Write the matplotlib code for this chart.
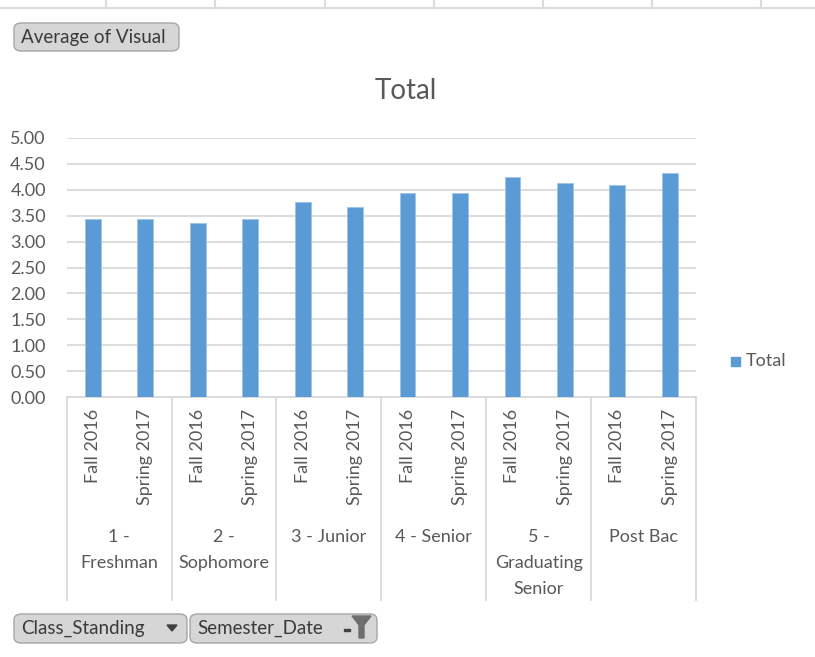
import matplotlib
matplotlib.use("Agg")
import matplotlib.pyplot as plt
import numpy as np
from matplotlib.patches import FancyBboxPatch, Polygon
from matplotlib.lines import Line2D
import matplotlib.transforms as mtransforms

plt.rcParams['font.family'] = ['Lato', 'DejaVu Sans']

semesters = ["Fall 2016", "Spring 2017"]
class_standing = ["1 -\nFreshman", "2 -\nSophomore", "3 - Junior", "4 - Senior",
                  "5 -\nGraduating\nSenior", "Post Bac"]
values = [3.43, 3.43, 3.36, 3.43, 3.76, 3.66, 3.93, 3.93, 4.25, 4.12, 4.08, 4.32]
yticks = [0.0, 0.5, 1.0, 1.5, 2.0, 2.5, 3.0, 3.5, 4.0, 4.5, 5.0]

W, H = 815, 657
fig = plt.figure(figsize=(W / 100, H / 100), dpi=100)
fig.patch.set_facecolor("white")

def fx(px):
    return px / W

def fy(py):
    return 1 - py / H

ax_l, ax_r, ax_t, ax_b = 66.7, 696, 137.7, 397.3
ax = fig.add_axes([fx(ax_l), fy(ax_b), fx(ax_r) - fx(ax_l), fy(ax_t) - fy(ax_b)])

txt = "#595959"
grid = "#d9d9d9"
bar_c = "#5B9BD5"
fs = 13

n = len(values)
x = np.arange(n)
ax.bar(x, values, width=0.3, color=bar_c, edgecolor="#9cc3e6", linewidth=0.6, zorder=3)
ax.set_xlim(-0.5, n - 0.5)
ax.set_ylim(0, 5)
ax.set_yticks(yticks)
ax.set_yticklabels([f"{v:.2f}" for v in yticks], color=txt, fontsize=fs)
ax.tick_params(axis="y", length=0, pad=15)
ax.set_xticks([])
ax.yaxis.grid(True, color=grid, linewidth=1.3, zorder=0)
for s in ["top", "right", "left"]:
    ax.spines[s].set_visible(False)
ax.spines["bottom"].set_color(grid)
ax.spines["bottom"].set_linewidth(1.3)

# title
fig.text(fx(406), fy(91), "Total", ha="center", va="center", fontsize=20, color=txt)

# category labels
tr = mtransforms.blended_transform_factory(ax.transData, fig.transFigure)
for i in range(n):
    ax.text(x[i], fy(409), semesters[i % 2], rotation=90, ha="center", va="top",
            fontsize=fs, color=txt, transform=tr)
ng = len(class_standing)
for g in range(ng):
    ax.text(2 * g + 0.5, fy(529), class_standing[g], ha="center", va="top",
            fontsize=fs, color=txt, transform=tr, linespacing=1.78)
for g in range(ng + 1):
    xx = 2 * g - 0.5
    ax.add_line(Line2D([xx, xx], [fy(ax_b), fy(600)], transform=tr, color=grid,
                       linewidth=1.3, clip_on=False))

# legend
fig.patches.append(plt.Rectangle((fx(731), fy(366)), fx(9), 9 / H, color=bar_c,
                                 transform=fig.transFigure))
fig.text(fx(746), fy(361), "Total", ha="left", va="center", fontsize=fs, color=txt)

# spreadsheet gridlines at top
fig.add_artist(Line2D([0, 1], [fy(7.5), fy(7.5)], color="#dcdcdc", linewidth=1.5,
                      transform=fig.transFigure))
for px in [106, 215, 325, 434, 543, 652, 761]:
    fig.add_artist(Line2D([fx(px), fx(px)], [fy(0), fy(7.5)], color="#dcdcdc",
                          linewidth=1.5, transform=fig.transFigure))

# pivot field buttons
def button(x0, y0, x1, y1, label):
    p = FancyBboxPatch((fx(x0), fy(y1)), fx(x1) - fx(x0), fy(y0) - fy(y1),
                       boxstyle="round,pad=0,rounding_size=0.009",
                       transform=fig.transFigure, facecolor="#d6d6d6",
                       edgecolor="#a6a6a6", linewidth=1.0)
    fig.patches.append(p)
    fig.text(fx(x0 + 7), fy((y0 + y1) / 2), label, ha="left", va="center",
             fontsize=13.5, color="#3a3a3a")

button(14, 23, 179, 51, "Average of Visual")
button(14, 614, 187, 643, "Class_Standing")
button(190, 614, 377, 643, "Semester_Date")

# dropdown arrow
fig.patches.append(Polygon([[fx(167), fy(625)], [fx(177), fy(625)], [fx(172), fy(631)]],
                           closed=True, transform=fig.transFigure, color="#404040"))
# filter icon
fig.patches.append(Polygon([[fx(352), fy(616)], [fx(371), fy(616)], [fx(364), fy(625)],
                            [fx(364), fy(638)], [fx(359), fy(638)], [fx(359), fy(625)]],
                           closed=True, transform=fig.transFigure, color="#6e6e6e"))
fig.patches.append(plt.Rectangle((fx(344), fy(631)), fx(6), 2 / H, color="#404040",
                                 transform=fig.transFigure))

fig.savefig("out.png", dpi=100)
